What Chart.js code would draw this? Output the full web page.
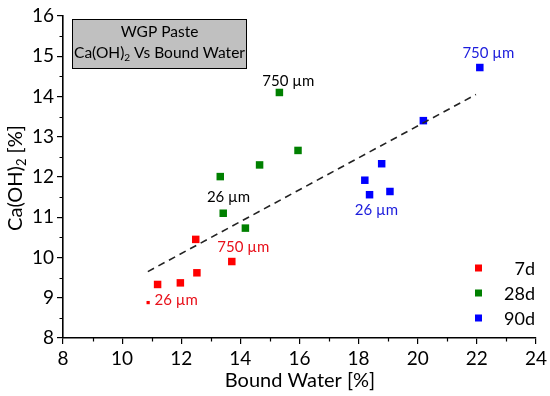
<!DOCTYPE html>
<html>
<head>
<meta charset="utf-8">
<script src="https://cdn.jsdelivr.net/npm/chart.js@4"></script>
<style>
  html, body { margin: 0; padding: 0; background: #fff; }
</style>
</head>
<body>
<canvas id="chart" width="550" height="396"></canvas>
<script>
// data
const x7d = [11.20, 11.97, 12.53, 12.49, 13.71];
const y7d = [9.33, 9.37, 9.62, 10.45, 9.90];
const x28d = [13.32, 14.65, 13.42, 14.17, 15.32, 15.95];
const y28d = [12.01, 12.30, 11.10, 10.73, 14.10, 12.66];
const x90d = [22.10, 20.19, 18.78, 18.21, 18.37, 19.06];
const y90d = [14.72, 13.40, 12.33, 11.92, 11.56, 11.64];
const xDot = [10.88];
const yDot = [8.88];
const trendX = [10.87, 21.97];
const trendY = [9.65, 14.05];

const xTickValues = [8, 10, 12, 14, 16, 18, 20, 22, 24];
const yTickValues = [8, 9, 10, 11, 12, 13, 14, 15, 16];

const noteText = ['750 µm', '26 µm', '750 µm', '26 µm', '750 µm', '26 µm'];
const noteX = [15.62, 13.60, 14.10, 11.83, 22.39, 18.60];
const noteY = [14.39, 11.51, 10.26, 8.93, 15.07, 11.17];
const noteColor = ['#000000', '#000000', '#e8101a', '#e8101a', '#1c1cdc', '#1c1cdc'];

const legendNames = ['7d', '28d', '90d'];
const seriesColors = ['#ff0000', '#008000', '#0000ff'];

const FONT = 'Lato, "Open Sans", sans-serif';

function toPoints(xs, ys) {
    return xs.map((x, i) => ({ x: x, y: ys[i] }));
}

// draws text with a subscript part, centred on x
function drawSubText(ctx, parts, x, y, size) {
    let total = 0;
    parts.forEach(p => {
        ctx.font = (p[1] ? size * 0.65 : size) + 'px ' + FONT;
        total += ctx.measureText(p[0]).width;
    });
    let cx = x - total / 2;
    parts.forEach(p => {
        ctx.font = (p[1] ? size * 0.65 : size) + 'px ' + FONT;
        ctx.fillText(p[0], cx, p[1] ? y + size * 0.3 : y);
        cx += ctx.measureText(p[0]).width;
    });
}

const decor = {
    id: 'decor',
    afterDraw(chart) {
        const ctx = chart.ctx;
        const xs = chart.scales.x;
        const ys = chart.scales.y;
        const area = chart.chartArea;
        ctx.save();

        // minor ticks
        ctx.strokeStyle = '#000';
        ctx.lineWidth = 1.2;
        ctx.beginPath();
        for (let v = 9; v < 24; v += 2) {
            const px = Math.round(xs.getPixelForValue(v)) + 0.5;
            ctx.moveTo(px, area.bottom);
            ctx.lineTo(px, area.bottom + 3.5);
        }
        for (let v = 8.5; v < 16; v += 1) {
            const py = Math.round(ys.getPixelForValue(v)) + 0.5;
            ctx.moveTo(area.left, py);
            ctx.lineTo(area.left - 3.5, py);
        }
        ctx.stroke();

        // title box
        ctx.fillStyle = '#c0c0c0';
        ctx.fillRect(72, 19, 175, 49);
        ctx.strokeStyle = '#000';
        ctx.lineWidth = 1;
        ctx.strokeRect(72.5, 19.5, 174, 49);
        ctx.fillStyle = '#000';
        ctx.textAlign = 'left';
        ctx.textBaseline = 'middle';
        drawSubText(ctx, [['WGP Paste', false]], 159.5, 32, 15.5);
        drawSubText(ctx, [['Ca(OH)', false], ['2', true], [' Vs Bound Water', false]], 159.5, 53, 15.5);

        // axis titles
        drawSubText(ctx, [['Bound Water [%]', false]], 300, 381, 20);
        ctx.save();
        ctx.translate(16, 178);
        ctx.rotate(-Math.PI / 2);
        drawSubText(ctx, [['Ca(OH)', false], ['2', true], [' [%]', false]], 0, 0, 20);
        ctx.restore();

        // point notes
        ctx.textAlign = 'center';
        ctx.font = '15px ' + FONT;
        noteText.forEach((t, i) => {
            ctx.fillStyle = noteColor[i];
            ctx.fillText(t, xs.getPixelForValue(noteX[i]), ys.getPixelForValue(noteY[i]));
        });

        // legend
        ctx.textAlign = 'right';
        ctx.font = '18px ' + FONT;
        legendNames.forEach((name, i) => {
            const ly = 268 + i * 25;
            ctx.fillStyle = seriesColors[i];
            ctx.fillRect(475, ly - 3.5, 7, 7);
            ctx.fillStyle = '#000';
            ctx.fillText(name, 535, ly + 1);
        });
        ctx.restore();
    }
};

const ctx = document.getElementById('chart').getContext('2d');
const chart = new Chart(ctx, {
    type: 'scatter',
    data: {
        datasets: [
            {
                type: 'line',
                data: toPoints(trendX, trendY),
                borderColor: '#222',
                borderWidth: 1.6,
                borderDash: [7, 5],
                pointRadius: 0,
                fill: false
            },
            {
                data: toPoints(x7d, y7d),
                backgroundColor: seriesColors[0],
                borderWidth: 0,
                pointStyle: 'rect',
                pointRadius: 5.3
            },
            {
                data: toPoints(xDot, yDot),
                backgroundColor: seriesColors[0],
                borderWidth: 0,
                pointStyle: 'rect',
                pointRadius: 2.3
            },
            {
                data: toPoints(x28d, y28d),
                backgroundColor: seriesColors[1],
                borderWidth: 0,
                pointStyle: 'rect',
                pointRadius: 5.3
            },
            {
                data: toPoints(x90d, y90d),
                backgroundColor: seriesColors[2],
                borderWidth: 0,
                pointStyle: 'rect',
                pointRadius: 5.3
            }
        ]
    },
    options: {
        responsive: false,
        animation: false,
        devicePixelRatio: 1,
        layout: { padding: { top: 16, right: 13, left: 0, bottom: 0 } },
        plugins: {
            legend: { display: false },
            tooltip: { enabled: false }
        },
        scales: {
            x: {
                type: 'linear',
                min: 8,
                max: 24,
                afterBuildTicks: s => { s.ticks = xTickValues.map(v => ({ value: v })); },
                afterFit: s => { s.height = 58; },
                ticks: { color: '#000', font: { family: FONT, size: 19 }, padding: 3 },
                grid: { drawOnChartArea: false, drawTicks: true, tickLength: 6, color: '#000', lineWidth: 1.2 },
                border: { display: true, color: '#000', width: 1.6 }
            },
            y: {
                type: 'linear',
                min: 8,
                max: 16,
                afterBuildTicks: s => { s.ticks = yTickValues.map(v => ({ value: v })); },
                afterFit: s => { s.width = 63; },
                ticks: { color: '#000', font: { family: FONT, size: 19 }, padding: 3 },
                grid: { drawOnChartArea: false, drawTicks: true, tickLength: 6, color: '#000', lineWidth: 1.2 },
                border: { display: true, color: '#000', width: 1.6 }
            }
        }
    },
    plugins: [decor]
});
</script>
</body>
</html>
